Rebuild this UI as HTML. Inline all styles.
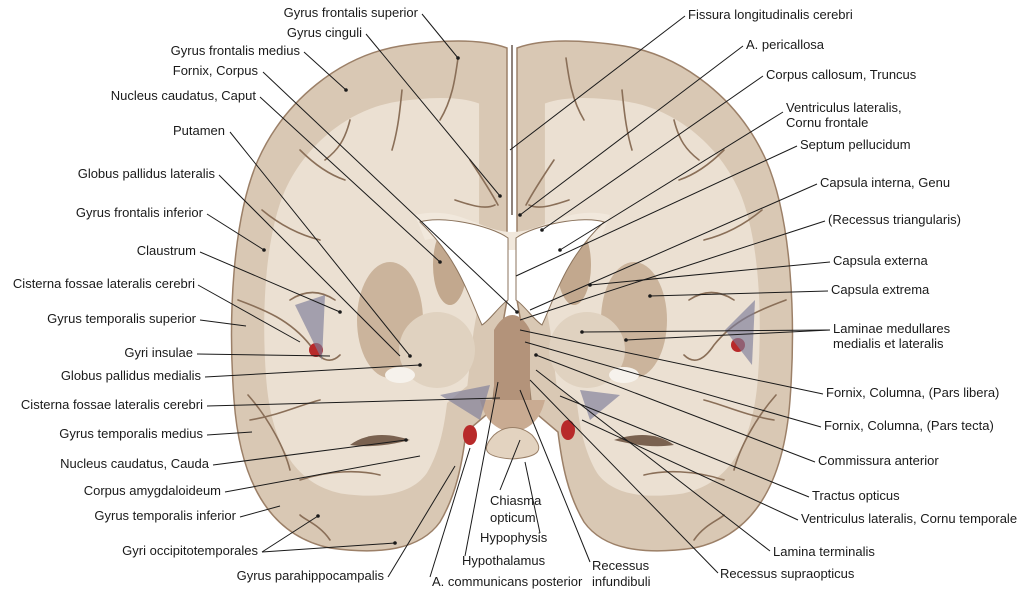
<!DOCTYPE html>
<html><head><meta charset="utf-8"><style>
html,body{margin:0;padding:0;background:#fff;}
svg{display:block;}
text{font-family:"Liberation Sans",Arial,sans-serif;font-size:13px;fill:#1a1a1a;}
</style></head><body>
<svg width="1036" height="593" viewBox="0 0 1036 593" xmlns="http://www.w3.org/2000/svg">
<defs>
<path id="lh" d="M507,48 C480,38 440,40 400,46 C340,56 285,100 258,160 C232,220 228,320 234,400 C240,480 268,535 330,548 C380,555 420,550 440,522 C456,495 462,465 466,432 L492,410 L500,340 L507,300 Z"/>
<g id="sul" fill="none" stroke="#8a6f58" stroke-width="1.6" stroke-linecap="round">
<path d="M458,58 C455,80 452,100 440,120"/>
<path d="M402,90 C400,110 398,130 392,150"/>
<path d="M350,120 C345,140 338,150 325,160"/>
<path d="M300,150 C315,165 330,175 345,180"/>
<path d="M262,210 C280,225 300,235 320,240"/>
<path d="M238,300 C265,310 290,320 310,345 C320,360 330,365 340,355"/>
<path d="M290,300 C305,290 320,290 335,300"/>
<path d="M248,395 C270,420 285,450 290,470"/>
<path d="M300,480 C330,470 360,470 380,475"/>
<path d="M330,540 C320,525 305,520 300,515"/>
<path d="M470,160 C480,175 490,190 498,205"/>
<path d="M455,200 C470,205 485,210 495,205"/>
<path d="M250,420 C280,415 300,405 320,400"/>
</g>
</defs>
<!-- hemispheres -->
<g stroke="#9c8068" stroke-width="1.5">
<use href="#lh" fill="#d9c8b4"/>
<use href="#lh" fill="#d9c8b4" transform="translate(1024,0) scale(-1,1)"/>
</g>
<g fill="#ebe0d2">
<use href="#lh" transform="translate(380,300) scale(0.78) translate(-380,-300)"/>
<use href="#lh" transform="translate(1024,0) scale(-1,1) translate(380,300) scale(0.78) translate(-380,-300)"/>
</g>
<use href="#sul"/>
<use href="#sul" transform="translate(1024,0) scale(-1,1)"/>
<!-- corpus callosum -->
<path d="M415,215 C460,205 480,232 512,232 C545,232 565,205 610,215 L600,240 C560,230 540,250 512,250 C485,250 465,230 425,240 Z" fill="#f1e8dc"/>
<!-- basal nuclei -->
<ellipse cx="390" cy="320" rx="33" ry="58" fill="#cbb49c"/>
<ellipse cx="634" cy="320" rx="33" ry="58" fill="#cbb49c"/>
<ellipse cx="437" cy="350" rx="38" ry="38" fill="#e0d2c0"/>
<ellipse cx="587" cy="350" rx="38" ry="38" fill="#e0d2c0"/>
<ellipse cx="450" cy="265" rx="17" ry="40" fill="#c2a88e"/>
<ellipse cx="574" cy="265" rx="17" ry="40" fill="#c2a88e"/>
<ellipse cx="400" cy="375" rx="15" ry="8" fill="#f6f2ec"/>
<ellipse cx="624" cy="375" rx="15" ry="8" fill="#f6f2ec"/>
<!-- temporal horn clefts -->
<path d="M350,445 C370,430 395,435 410,440 C390,445 370,448 350,445 Z" fill="#7a6250"/>
<path d="M674,445 C654,430 629,435 614,440 C634,445 654,448 674,445 Z" fill="#7a6250"/>
<!-- ventricles -->
<path d="M420,222 C440,215 490,225 508,238 L508,300 C500,305 490,320 482,325 C470,300 460,260 420,222 Z" fill="#fff" stroke="#8b735c"/>
<path d="M604,222 C584,215 534,225 516,238 L516,300 C524,305 534,320 542,325 C554,300 564,260 604,222 Z" fill="#fff" stroke="#8b735c"/>
<!-- third ventricle / hypothalamus -->
<path d="M494,330 C505,310 520,310 530,330 L530,400 L494,400 Z" fill="#b3937a"/>
<path d="M480,400 L545,400 C540,420 530,430 512,432 C495,430 485,420 480,400 Z" fill="#c9ab92"/>
<path d="M494,435 C505,425 520,425 532,435 C545,450 540,457 512,459 C485,457 480,450 494,435 Z" fill="#e3d3c0" stroke="#9a8068"/>
<!-- fissure -->
<line x1="512" y1="45" x2="512" y2="215" stroke="#6a5a50" stroke-width="1.5"/>
<!-- vessels / cisterns -->
<g fill="#b82a2a"><ellipse cx="470" cy="435" rx="7" ry="10"/><ellipse cx="568" cy="430" rx="7" ry="10"/><circle cx="738" cy="345" r="7"/><circle cx="316" cy="350" r="7"/></g>
<g fill="#7d7d9a" opacity="0.65"><path d="M440,395 L490,385 L480,420 Z"/><path d="M580,390 L620,395 L590,420 Z"/><path d="M295,305 L325,295 L322,360 Z"/><path d="M725,330 L755,300 L752,365 Z"/></g>
<!-- leader lines -->
<g stroke="#1a1a1a" stroke-width="1" fill="none">
<path d="M422,14 L458,58"/><path d="M366,34 L500,196"/><path d="M304,52 L346,90"/>
<path d="M263,72 L517,312"/><path d="M260,97 L440,262"/><path d="M230,132 L410,356"/>
<path d="M219,175 L400,356"/><path d="M207,214 L264,250"/><path d="M200,252 L340,312"/>
<path d="M198,285 L300,342"/><path d="M200,320 L246,326"/><path d="M197,354 L330,356"/>
<path d="M205,377 L420,365"/><path d="M207,406 L500,398"/><path d="M207,435 L252,432"/>
<path d="M213,465 L406,440"/><path d="M225,492 L420,456"/><path d="M240,517 L280,506"/>
<path d="M262,552 L318,516"/><path d="M262,552 L395,543"/><path d="M388,577 L455,466"/>
<path d="M430,577 L470,448"/><path d="M465,556 L498,382"/><path d="M500,490 L520,440"/>
<path d="M540,533 L525,462"/><path d="M590,562 L520,390"/><path d="M718,573 L530,380"/>
<path d="M770,551 L536,370"/>
<path d="M685,16 L510,150"/><path d="M743,46 L520,215"/><path d="M763,76 L542,230"/>
<path d="M783,112 L560,250"/><path d="M797,146 L516,276"/><path d="M817,184 L530,310"/>
<path d="M825,221 L520,320"/><path d="M830,262 L590,285"/><path d="M828,291 L650,296"/>
<path d="M830,330 L582,332"/><path d="M830,330 L626,340"/><path d="M823,394 L520,330"/>
<path d="M821,427 L525,342"/><path d="M815,462 L536,355"/><path d="M809,497 L560,396"/>
<path d="M798,520 L582,420"/>
</g>
<g fill="#1a1a1a">
<circle cx="458" cy="58" r="1.8"/><circle cx="500" cy="196" r="1.8"/><circle cx="346" cy="90" r="1.8"/><circle cx="517" cy="312" r="1.8"/><circle cx="440" cy="262" r="1.8"/><circle cx="410" cy="356" r="1.8"/><circle cx="264" cy="250" r="1.8"/><circle cx="340" cy="312" r="1.8"/><circle cx="420" cy="365" r="1.8"/><circle cx="406" cy="440" r="1.8"/><circle cx="318" cy="516" r="1.8"/><circle cx="395" cy="543" r="1.8"/><circle cx="520" cy="215" r="1.8"/><circle cx="542" cy="230" r="1.8"/><circle cx="560" cy="250" r="1.8"/><circle cx="590" cy="285" r="1.8"/><circle cx="650" cy="296" r="1.8"/><circle cx="582" cy="332" r="1.8"/><circle cx="626" cy="340" r="1.8"/><circle cx="536" cy="355" r="1.8"/>
</g>
<!-- left labels -->
<g text-anchor="end">
<text x="418" y="17">Gyrus frontalis superior</text>
<text x="362" y="37">Gyrus cinguli</text>
<text x="300" y="55">Gyrus frontalis medius</text>
<text x="258" y="75">Fornix, Corpus</text>
<text x="256" y="100">Nucleus caudatus, Caput</text>
<text x="225" y="135">Putamen</text>
<text x="215" y="178">Globus pallidus lateralis</text>
<text x="203" y="217">Gyrus frontalis inferior</text>
<text x="196" y="255">Claustrum</text>
<text x="195" y="288">Cisterna fossae lateralis cerebri</text>
<text x="196" y="323">Gyrus temporalis superior</text>
<text x="193" y="357">Gyri insulae</text>
<text x="201" y="380">Globus pallidus medialis</text>
<text x="203" y="409">Cisterna fossae lateralis cerebri</text>
<text x="203" y="438">Gyrus temporalis medius</text>
<text x="209" y="468">Nucleus caudatus, Cauda</text>
<text x="221" y="495">Corpus amygdaloideum</text>
<text x="236" y="520">Gyrus temporalis inferior</text>
<text x="258" y="555">Gyri occipitotemporales</text>
<text x="384" y="580">Gyrus parahippocampalis</text>
</g>
<!-- bottom labels -->
<text x="432" y="586">A. communicans posterior</text>
<text x="462" y="565">Hypothalamus</text>
<text x="490" y="505">Chiasma</text>
<text x="490" y="522">opticum</text>
<text x="480" y="542">Hypophysis</text>
<text x="592" y="570">Recessus</text>
<text x="592" y="586">infundibuli</text>
<text x="720" y="578">Recessus supraopticus</text>
<text x="773" y="556">Lamina terminalis</text>
<!-- right labels -->
<text x="688" y="19">Fissura longitudinalis cerebri</text>
<text x="746" y="49">A. pericallosa</text>
<text x="766" y="79">Corpus callosum, Truncus</text>
<text x="786" y="112">Ventriculus lateralis,</text>
<text x="786" y="127">Cornu frontale</text>
<text x="800" y="149">Septum pellucidum</text>
<text x="820" y="187">Capsula interna, Genu</text>
<text x="828" y="224">(Recessus triangularis)</text>
<text x="833" y="265">Capsula externa</text>
<text x="831" y="294">Capsula extrema</text>
<text x="833" y="333">Laminae medullares</text>
<text x="833" y="348">medialis et lateralis</text>
<text x="826" y="397">Fornix, Columna, (Pars libera)</text>
<text x="824" y="430">Fornix, Columna, (Pars tecta)</text>
<text x="818" y="465">Commissura anterior</text>
<text x="812" y="500">Tractus opticus</text>
<text x="801" y="523">Ventriculus lateralis, Cornu temporale</text>
</svg>
</body></html>
